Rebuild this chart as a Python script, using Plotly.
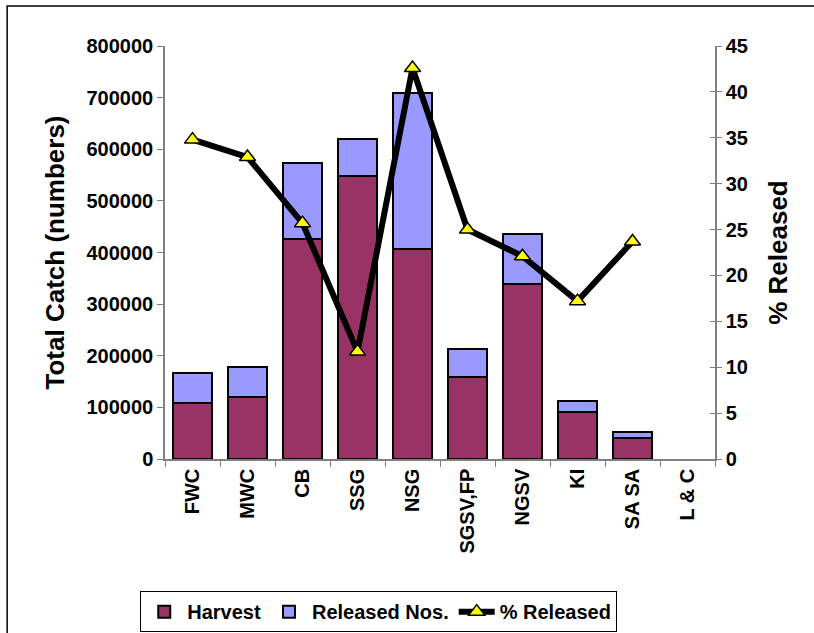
import plotly.graph_objects as go

# --- data ---
regions = ["FWC", "MWC", "CB", "SSG", "NSG", "SGSV,FP", "NGSV", "KI", "SA SA", "L & C"]
harvest = [108000, 120500, 425500, 548000, 407500, 159500, 339000, 91500, 40000, None]
released = [58000, 57000, 148500, 72500, 302000, 53000, 97000, 20500, 11500, None]
pct_released = [34.8, 32.9, 25.7, 11.7, 42.6, 25.0, 22.1, 17.2, 23.7, None]

FONT = "Arial, Liberation Sans, sans-serif"
AXIS_GREY = "#808080"

fig = go.Figure()

fig.add_trace(go.Bar(
    x=regions, y=harvest, name="Harvest",
    marker=dict(color="#993366", line=dict(color="black", width=2)),
))
fig.add_trace(go.Bar(
    x=regions, y=released, name="Released Nos.",
    marker=dict(color="#9999FF", line=dict(color="black", width=2)),
))
fig.add_trace(go.Scatter(
    x=regions, y=pct_released, name="% Released", yaxis="y2",
    mode="lines+markers",
    line=dict(color="black", width=6),
    marker=dict(symbol="triangle-up", size=14, color="#FFFF00",
                line=dict(color="black", width=1.5)),
))

# outer chart frame (left/top edges visible, rest runs off the page)
fig.add_shape(type="rect", xref="paper", yref="paper",
              x0=-0.287, x1=1.3, y0=-0.6, y1=1.097,
              line=dict(color="black", width=1.5))

fig.update_layout(
    width=814, height=633,
    barmode="stack", bargap=0.29,
    plot_bgcolor="white", paper_bgcolor="white",
    font=dict(family=FONT, size=20, color="black"),
    margin=dict(l=165, r=99, t=46, b=174, autoexpand=False),
    xaxis=dict(
        type="category", range=[-0.5, len(regions) - 0.5],
        tickangle=-90, tickson="boundaries",
        ticks="outside", ticklen=6, tickcolor=AXIS_GREY,
        showline=True, linecolor=AXIS_GREY, linewidth=1.5,
        automargin=False,
        tickfont=dict(family=FONT, size=20, weight="bold"),
    ),
    yaxis=dict(
        range=[0, 800000], dtick=100000, tickformat="d",
        ticks="outside", ticklen=6, tickcolor=AXIS_GREY,
        showline=True, linecolor=AXIS_GREY, linewidth=1.5,
        showgrid=False, zeroline=False, automargin=False,
        tickfont=dict(family=FONT, size=20, weight="bold"),
        title=dict(text="Total Catch (numbers)", standoff=14,
                   font=dict(family=FONT, size=26, weight="bold")),
    ),
    yaxis2=dict(
        range=[0, 45], dtick=5, overlaying="y", side="right",
        ticks="outside", ticklen=5, tickcolor=AXIS_GREY,
        showline=True, linecolor=AXIS_GREY, linewidth=1.5,
        showgrid=False, zeroline=False, automargin=False,
        tickfont=dict(family=FONT, size=20, weight="bold"),
        title=dict(text="% Released", standoff=22,
                   font=dict(family=FONT, size=26, weight="bold")),
    ),
    # inner half of the crossing ticks on the right axis
    yaxis3=dict(
        range=[0, 45], dtick=5, overlaying="y", side="right",
        ticks="inside", ticklen=5, tickcolor=AXIS_GREY,
        showticklabels=False, showline=False, showgrid=False, zeroline=False,
    ),
    legend=dict(
        orientation="h", traceorder="normal",
        x=-0.045, xanchor="left", y=-0.32, yanchor="top",
        bordercolor="black", borderwidth=1, bgcolor="white",
        font=dict(family=FONT, size=20, weight="bold"),
        itemwidth=36,
    ),
)

# dummy trace so the inner-tick axis is drawn
fig.add_trace(go.Scatter(x=regions, y=[None] * len(regions), yaxis="y3",
                         showlegend=False, hoverinfo="skip"))

fig.write_html("out.html", config={"displayModeBar": False},
               post_script="document.body.style.margin='0';")
